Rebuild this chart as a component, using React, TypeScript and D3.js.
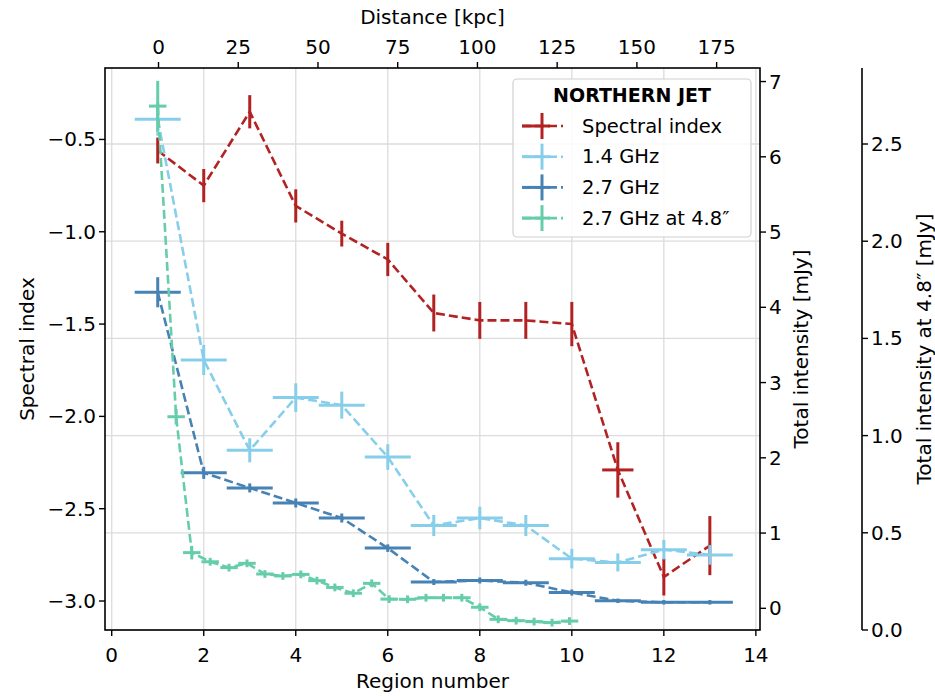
import React from "react";
import * as d3 from "d3";

const regions = [1, 2, 3, 4, 5, 6, 7, 8, 9, 10, 11, 12, 13];
const spectralIndex = [-0.56, -0.75, -0.35, -0.86, -1.01, -1.15, -1.44, -1.48, -1.48, -1.5, -2.29, -2.87, -2.7];
const spectralErr = [0.07, 0.09, 0.09, 0.09, 0.07, 0.09, 0.1, 0.1, 0.1, 0.12, 0.15, 0.1, 0.16];
const spectralXErr = [0, 0, 0, 0, 0, 0, 0, 0, 0, 0, 0.34, 0, 0];

const flux14 = [6.5, 3.3, 2.1, 2.8, 2.7, 2.01, 1.1, 1.2, 1.1, 0.66, 0.61, 0.78, 0.71];
const flux14Err = [0.22, 0.2, 0.16, 0.19, 0.18, 0.17, 0.14, 0.15, 0.14, 0.13, 0.12, 0.13, 0.13];
const flux27 = [4.2, 1.8, 1.6, 1.4, 1.2, 0.8, 0.35, 0.37, 0.34, 0.21, 0.1, 0.08, 0.08];
const flux27Err = [0.2, 0.08, 0.06, 0.06, 0.06, 0.05, 0.04, 0.04, 0.04, 0.04, 0.03, 0.03, 0.03];
const regionXErr = 0.5;

const lowResX = [1.0, 1.4, 1.74, 2.14, 2.55, 2.94, 3.33, 3.72, 4.11, 4.46, 4.85, 5.25, 5.65, 6.03, 6.43, 6.83, 7.21, 7.61, 8.0, 8.4, 8.79, 9.18, 9.57, 9.95];
const lowResFlux = [2.695, 1.097, 0.398, 0.351, 0.321, 0.343, 0.288, 0.278, 0.286, 0.254, 0.219, 0.189, 0.24, 0.159, 0.158, 0.166, 0.166, 0.166, 0.117, 0.055, 0.048, 0.043, 0.038, 0.046];
const lowResErr = [0.13, 0.04, 0.035, 0.02, 0.02, 0.02, 0.02, 0.02, 0.02, 0.02, 0.02, 0.02, 0.02, 0.02, 0.02, 0.02, 0.02, 0.02, 0.02, 0.02, 0.02, 0.02, 0.02, 0.02];
const lowResXErr = 0.19;

const bottomTicks = [0, 2, 4, 6, 8, 10, 12, 14];
const topTicks = [0, 25, 50, 75, 100, 125, 150, 175];
const leftTicks = [-3.0, -2.5, -2.0, -1.5, -1.0, -0.5];
const rightTicks = [0, 1, 2, 3, 4, 5, 6, 7];
const farRightTicks = [0.0, 0.5, 1.0, 1.5, 2.0, 2.5];

const legendTitle = "NORTHERN JET";
const legendLabels = ["Spectral index", "1.4 GHz", "2.7 GHz", "2.7 GHz at 4.8″"];

const RED = "#b22222";
const LIGHT = "#87ceeb";
const DARK = "#4682b4";
const GREEN = "#66cdaa";

const L = 105, R = 760, T = 68, B = 630;
const AX3 = 862;
const FONT = "DejaVu Sans, sans-serif";

const x = d3.scaleLinear().domain([-0.146, 14.09]).range([L, R]);
const xTop = d3.scaleLinear().domain([-16.78, 188.6]).range([L, R]);
const yLeft = d3.scaleLinear().domain([-3.157, -0.113]).range([B, T]);
const yRight = d3.scaleLinear().domain([-0.288, 7.18]).range([B, T]);
const y3 = d3.scaleLinear().domain([0, 2.891]).range([B, T]);

const fmtMinus = (v: number) => d3.format(".1f")(v).replace("-", "−");

type Series = {
  xs: number[];
  ys: number[];
  yerr: number[];
  xerr: number[];
  ys_scale: d3.ScaleLinear<number, number>;
  color: string;
};

function ErrSeries({ s }: { s: Series }) {
  const line = d3
    .line<number>()
    .x((_, i) => x(s.xs[i]))
    .y((_, i) => s.ys_scale(s.ys[i]));
  return (
    <g>
      {s.xs.map((xv, i) => {
        const cx = x(xv);
        const cy = s.ys_scale(s.ys[i]);
        return (
          <g key={i} stroke={s.color} strokeWidth={3}>
            {s.xerr[i] > 0 && (
              <line x1={x(xv - s.xerr[i])} x2={x(xv + s.xerr[i])} y1={cy} y2={cy} />
            )}
            <line x1={cx} x2={cx} y1={s.ys_scale(s.ys[i] - s.yerr[i])} y2={s.ys_scale(s.ys[i] + s.yerr[i])} />
          </g>
        );
      })}
      <path d={line(s.ys) || ""} fill="none" stroke={s.color} strokeWidth={2.6} strokeDasharray="9 4" />
    </g>
  );
}

export default function App() {
  const series: Series[] = [
    { xs: regions, ys: spectralIndex, yerr: spectralErr, xerr: spectralXErr, ys_scale: yLeft, color: RED },
    { xs: regions, ys: flux14, yerr: flux14Err, xerr: regions.map(() => regionXErr), ys_scale: yRight, color: LIGHT },
    { xs: regions, ys: flux27, yerr: flux27Err, xerr: regions.map(() => regionXErr), ys_scale: yRight, color: DARK },
    { xs: lowResX, ys: lowResFlux, yerr: lowResErr, xerr: lowResX.map(() => lowResXErr), ys_scale: y3, color: GREEN },
  ];
  const colors = [RED, LIGHT, DARK, GREEN];
  const tickFont = 20;

  return (
    <svg width={935} height={696} style={{ position: "absolute", left: 0, top: 0, background: "#fff" }} fontFamily={FONT}>
      <rect x={0} y={0} width={935} height={696} fill="#fff" />
      {/* grid */}
      <g stroke="#dcdcdc" strokeWidth={1.3}>
        {bottomTicks.map((t) => (
          <line key={"gx" + t} x1={x(t)} x2={x(t)} y1={T} y2={B} />
        ))}
        {farRightTicks.map((t) => (
          <line key={"gy" + t} x1={L} x2={R} y1={y3(t)} y2={y3(t)} />
        ))}
      </g>

      {series.map((s, i) => (
        <ErrSeries key={i} s={s} />
      ))}

      {/* frame */}
      <rect x={L} y={T} width={R - L} height={B - T} fill="none" stroke="#000" strokeWidth={1.6} />
      <line x1={AX3} x2={AX3} y1={T} y2={B} stroke="#000" strokeWidth={1.6} />

      {/* bottom axis */}
      <g fontSize={tickFont} textAnchor="middle" fill="#000">
        {bottomTicks.map((t) => (
          <g key={"b" + t}>
            <line x1={x(t)} x2={x(t)} y1={B} y2={B + 6} stroke="#000" strokeWidth={1.4} />
            <text x={x(t)} y={B + 32}>{t}</text>
          </g>
        ))}
        <text x={(L + R) / 2} y={688}>Region number</text>
      </g>

      {/* top axis */}
      <g fontSize={tickFont} textAnchor="middle" fill="#000">
        {topTicks.map((t) => (
          <g key={"t" + t}>
            <line x1={xTop(t)} x2={xTop(t)} y1={T} y2={T - 6} stroke="#000" strokeWidth={1.4} />
            <text x={xTop(t)} y={T - 14}>{t}</text>
          </g>
        ))}
        <text x={(L + R) / 2} y={24}>Distance [kpc]</text>
      </g>

      {/* left axis */}
      <g fontSize={tickFont} fill="#000">
        {leftTicks.map((t) => (
          <g key={"l" + t}>
            <line x1={L} x2={L - 6} y1={yLeft(t)} y2={yLeft(t)} stroke="#000" strokeWidth={1.4} />
            <text x={L - 9} y={yLeft(t)} textAnchor="end" dominantBaseline="central">{fmtMinus(t)}</text>
          </g>
        ))}
        <text transform={`translate(27,${(T + B) / 2}) rotate(-90)`} textAnchor="middle" dominantBaseline="central">
          Spectral index
        </text>
      </g>

      {/* right axis */}
      <g fontSize={tickFont} fill="#000">
        {rightTicks.map((t) => (
          <g key={"r" + t}>
            <line x1={R} x2={R + 6} y1={yRight(t)} y2={yRight(t)} stroke="#000" strokeWidth={1.4} />
            <text x={R + 9} y={yRight(t)} textAnchor="start" dominantBaseline="central">{t}</text>
          </g>
        ))}
        <text transform={`translate(801,${(T + B) / 2}) rotate(-90)`} textAnchor="middle" dominantBaseline="central">
          Total intensity [mJy]
        </text>
      </g>

      {/* far right axis */}
      <g fontSize={tickFont} fill="#000">
        {farRightTicks.map((t) => (
          <g key={"f" + t}>
            <line x1={AX3} x2={AX3 + 6} y1={y3(t)} y2={y3(t)} stroke="#000" strokeWidth={1.4} />
            <text x={AX3 + 9} y={y3(t)} textAnchor="start" dominantBaseline="central">{t.toFixed(1)}</text>
          </g>
        ))}
        <text transform={`translate(924,${(T + B) / 2}) rotate(-90)`} textAnchor="middle" dominantBaseline="central">
          Total intensity at 4.8″ [mJy]
        </text>
      </g>

      {/* legend */}
      <g>
        <rect x={513} y={79} width={238} height={158} rx={4} fill="#fff" fillOpacity={0.85} stroke="#d0d0d0" strokeWidth={1.2} />
        <text x={632} y={95} textAnchor="middle" dominantBaseline="central" fontWeight="bold" fontSize={19}>
          {legendTitle}
        </text>
        {legendLabels.map((lab, i) => {
          const cy = 126 + i * 30.7;
          return (
            <g key={lab}>
              <line x1={522} x2={563} y1={cy} y2={cy} stroke={colors[i]} strokeWidth={2.6} strokeDasharray="9 4" />
              <line x1={522} x2={550} y1={cy} y2={cy} stroke={colors[i]} strokeWidth={3} />
              <line x1={542} x2={542} y1={cy - 13} y2={cy + 13} stroke={colors[i]} strokeWidth={3} />
              <text x={582} y={cy} dominantBaseline="central" fontSize={19.5}>{lab}</text>
            </g>
          );
        })}
      </g>
    </svg>
  );
}
